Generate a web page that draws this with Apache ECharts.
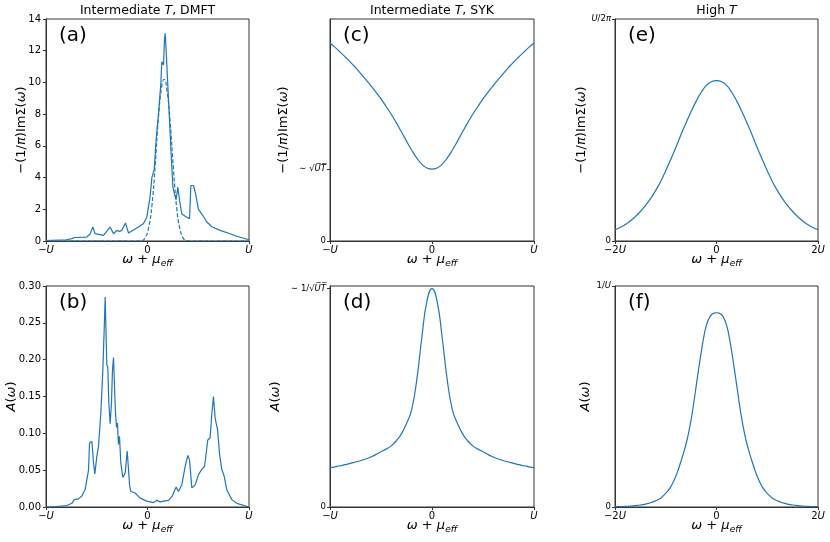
<!DOCTYPE html>
<html lang="en">
<head>
<meta charset="UTF-8">
<title>Self-energy and spectral function</title>
<script src="https://cdn.jsdelivr.net/npm/echarts@6/dist/echarts.min.js"></script>
<style>
    html, body { margin: 0; padding: 0; background: #fff; }
    #chart { width: 830px; height: 542px; }
</style>
</head>
<body>
<div id="chart"></div>
<script>
// all x values in units of U

// (a) DMFT -(1/pi) Im Sigma, solid and dashed
const dmftSigma = [
    [-1.0, 0.03], [-0.80, 0.08], [-0.745, 0.15], [-0.72, 0.22], [-0.598, 0.25], [-0.565, 0.45],
    [-0.539, 0.88], [-0.516, 0.46], [-0.434, 0.36], [-0.368, 0.88], [-0.335, 0.46], [-0.302, 0.67],
    [-0.276, 0.6], [-0.253, 0.67], [-0.217, 1.14], [-0.187, 0.5], [-0.138, 0.7], [-0.089, 0.88],
    [-0.039, 1.1], [-0.007, 1.5], [0.026, 2.8], [0.043, 4.0], [0.066, 4.5], [0.085, 6.4],
    [0.108, 8.0], [0.131, 9.9], [0.141, 11.3], [0.151, 11.4], [0.158, 11.1], [0.167, 12.7],
    [0.174, 13.1], [0.184, 12.0], [0.207, 8.9], [0.230, 5.9], [0.250, 3.4], [0.273, 2.8],
    [0.282, 2.6], [0.299, 3.4], [0.315, 2.6], [0.338, 1.7], [0.388, 1.5], [0.414, 1.4],
    [0.427, 3.5], [0.453, 3.5], [0.470, 3.1], [0.502, 2.0], [0.535, 1.7], [0.585, 1.2],
    [0.634, 0.9], [0.716, 0.67], [0.814, 0.46], [0.880, 0.3], [1.0, 0.08]
];
const dmftSigmaFit = [
    [-1.0, 0], [-0.10, 0], [-0.056, 0.02], [-0.023, 0.2], [0.010, 0.8], [0.043, 2.2],
    [0.076, 4.8], [0.108, 7.8], [0.141, 9.8], [0.164, 10.2], [0.190, 9.6], [0.223, 7.5],
    [0.256, 4.5], [0.289, 2.0], [0.322, 0.7], [0.355, 0.15], [0.388, 0.02], [0.43, 0], [1.0, 0]
];

// (b) DMFT A(omega)
const dmftSpectral = [
    [-1.0, 0.0], [-0.90, 0.0005], [-0.795, 0.002], [-0.745, 0.005], [-0.722, 0.01], [-0.680, 0.011],
    [-0.647, 0.015], [-0.614, 0.024], [-0.598, 0.026], [-0.581, 0.05], [-0.571, 0.087], [-0.548, 0.089],
    [-0.532, 0.06], [-0.519, 0.045], [-0.499, 0.069], [-0.483, 0.082], [-0.460, 0.127], [-0.440, 0.186],
    [-0.427, 0.24], [-0.417, 0.285], [-0.407, 0.227], [-0.401, 0.193], [-0.391, 0.19], [-0.381, 0.141],
    [-0.368, 0.113], [-0.355, 0.141], [-0.345, 0.186], [-0.335, 0.203], [-0.325, 0.164], [-0.315, 0.127],
    [-0.305, 0.108], [-0.296, 0.114], [-0.286, 0.085], [-0.276, 0.096], [-0.263, 0.06], [-0.243, 0.04],
    [-0.220, 0.046], [-0.200, 0.076], [-0.187, 0.051], [-0.177, 0.03], [-0.164, 0.021], [-0.122, 0.019],
    [-0.072, 0.012], [-0.007, 0.008], [0.059, 0.006], [0.092, 0.009], [0.125, 0.007], [0.158, 0.008],
    [0.207, 0.009], [0.240, 0.014], [0.282, 0.027], [0.305, 0.021], [0.338, 0.03], [0.371, 0.055],
    [0.397, 0.07], [0.414, 0.064], [0.437, 0.026], [0.470, 0.03], [0.502, 0.044], [0.535, 0.051],
    [0.562, 0.055], [0.594, 0.091], [0.617, 0.094], [0.634, 0.127], [0.650, 0.15], [0.667, 0.12],
    [0.690, 0.105], [0.709, 0.073], [0.732, 0.051], [0.755, 0.042], [0.782, 0.023], [0.831, 0.01],
    [0.880, 0.005], [1.0, 0.0]
];

// (c) SYK -(1/pi) Im Sigma, y in units where the top of the axis is 1
const sykSigma = [
    [-1.0, 0.892], [-0.95, 0.872], [-0.9, 0.851], [-0.85, 0.829], [-0.8, 0.806], [-0.75, 0.781],
    [-0.7, 0.755], [-0.65, 0.728], [-0.6, 0.700], [-0.55, 0.671], [-0.5, 0.640], [-0.45, 0.606],
    [-0.4, 0.571], [-0.35, 0.533], [-0.3, 0.492], [-0.25, 0.450], [-0.2, 0.410], [-0.15, 0.374],
    [-0.1, 0.346], [-0.05, 0.329], [0.0, 0.324], [0.05, 0.329], [0.1, 0.346], [0.15, 0.374],
    [0.2, 0.410], [0.25, 0.450], [0.3, 0.492], [0.35, 0.533], [0.4, 0.571], [0.45, 0.606],
    [0.5, 0.640], [0.55, 0.671], [0.6, 0.700], [0.65, 0.728], [0.7, 0.755], [0.75, 0.781],
    [0.8, 0.806], [0.85, 0.829], [0.9, 0.851], [0.95, 0.872], [1.0, 0.892]
];
const sykSigmaTicks = [0, 0.324];

// (d) SYK A(omega), peak ~ 1/sqrt(UT) taken as 1
const sykSpectral = [
    [-1.0, 0.180], [-0.95, 0.184], [-0.9, 0.189], [-0.85, 0.194], [-0.8, 0.200], [-0.75, 0.206],
    [-0.7, 0.212], [-0.65, 0.220], [-0.6, 0.229], [-0.55, 0.240], [-0.5, 0.253], [-0.45, 0.265],
    [-0.4, 0.280], [-0.35, 0.303], [-0.3, 0.335], [-0.25, 0.382], [-0.2, 0.445], [-0.15, 0.580],
    [-0.1, 0.775], [-0.05, 0.942], [0.0, 1.0], [0.05, 0.942], [0.1, 0.775], [0.15, 0.580],
    [0.2, 0.445], [0.25, 0.382], [0.3, 0.335], [0.35, 0.303], [0.4, 0.280], [0.45, 0.265],
    [0.5, 0.253], [0.55, 0.240], [0.6, 0.229], [0.65, 0.220], [0.7, 0.212], [0.75, 0.206],
    [0.8, 0.200], [0.85, 0.194], [0.9, 0.189], [0.95, 0.184], [1.0, 0.180]
];
const sykSpectralTicks = [0, 1];

// (e) high T -(1/pi) Im Sigma, y in units of U/2pi
const hotSigma = [
    [-2.0, 0.051], [-1.9, 0.061], [-1.8, 0.074], [-1.7, 0.090], [-1.6, 0.110], [-1.5, 0.133],
    [-1.4, 0.160], [-1.3, 0.191], [-1.2, 0.227], [-1.1, 0.268], [-1.0, 0.317], [-0.9, 0.368],
    [-0.8, 0.422], [-0.7, 0.479], [-0.6, 0.532], [-0.5, 0.583], [-0.4, 0.630], [-0.3, 0.670],
    [-0.2, 0.701], [-0.1, 0.717], [0.0, 0.722], [0.1, 0.717], [0.2, 0.701], [0.3, 0.670],
    [0.4, 0.630], [0.5, 0.583], [0.6, 0.532], [0.7, 0.479], [0.8, 0.422], [0.9, 0.368],
    [1.0, 0.317], [1.1, 0.268], [1.2, 0.227], [1.3, 0.191], [1.4, 0.160], [1.5, 0.133],
    [1.6, 0.110], [1.7, 0.090], [1.8, 0.074], [1.9, 0.061], [2.0, 0.051]
];
const hotSigmaTicks = [0, 1];

// (f) high T A(omega), y in units of 1/U
const hotSpectral = [
    [-2.0, 0.0015], [-1.9, 0.002], [-1.8, 0.003], [-1.7, 0.0045], [-1.6, 0.0065], [-1.5, 0.009],
    [-1.4, 0.013], [-1.3, 0.019], [-1.2, 0.028], [-1.1, 0.040], [-1.0, 0.062], [-0.95, 0.075],
    [-0.9, 0.092], [-0.85, 0.114], [-0.8, 0.140], [-0.75, 0.172], [-0.7, 0.207], [-0.65, 0.244],
    [-0.6, 0.285], [-0.55, 0.335], [-0.5, 0.395], [-0.45, 0.468], [-0.4, 0.548], [-0.35, 0.627],
    [-0.3, 0.702], [-0.25, 0.770], [-0.2, 0.822], [-0.15, 0.852], [-0.1, 0.870], [-0.05, 0.877],
    [0.0, 0.879], [0.05, 0.877], [0.1, 0.870], [0.15, 0.852], [0.2, 0.822], [0.25, 0.770],
    [0.3, 0.702], [0.35, 0.627], [0.4, 0.548], [0.45, 0.468], [0.5, 0.395], [0.55, 0.335],
    [0.6, 0.285], [0.65, 0.244], [0.7, 0.207], [0.75, 0.172], [0.8, 0.140], [0.85, 0.114],
    [0.9, 0.092], [0.95, 0.075], [1.0, 0.062], [1.1, 0.040], [1.2, 0.028], [1.3, 0.019],
    [1.4, 0.013], [1.5, 0.009], [1.6, 0.0065], [1.7, 0.0045], [1.8, 0.003], [1.9, 0.002], [2.0, 0.0015]
];
const hotSpectralTicks = [0, 1];

const titles = ['Intermediate {i|T}, DMFT', 'Intermediate {i|T}, SYK', 'High {i|T}'];
const panelTags = ['(a)', '(b)', '(c)', '(d)', '(e)', '(f)'];

const FONT = 'DejaVu Sans';
const BLUE = '#1f77b4';
const INK = '#333';

const chart = echarts.init(document.getElementById('chart'));

const rich = {
    i: { fontStyle: 'italic', fontFamily: FONT },
    sub: { fontStyle: 'italic', fontFamily: FONT, fontSize: 9, lineHeight: 9, verticalAlign: 'bottom' }
};

const sigmaName = '−(1/{i|π})ImΣ({i|ω})';
const spectralName = '{i|A}({i|ω})';
const omegaName = '{i|ω} + {i|μ}{sub|eff}';

// plot boxes, in px
const boxes = [
    { left: 46, top: 19, width: 203, height: 222 },
    { left: 46, top: 286, width: 203, height: 221 },
    { left: 330, top: 19, width: 204, height: 222 },
    { left: 330, top: 286, width: 204, height: 221 },
    { left: 615, top: 19, width: 203, height: 222 },
    { left: 615, top: 286, width: 203, height: 221 }
];

function uLabel(v, wide) {
    if (v === 0) return '0';
    let s = v < 0 ? '−' : '';
    return s + (wide ? '2' : '') + '{i|U}';
}

function xAxisFor(i, wide) {
    return {
        type: 'value', gridIndex: i,
        min: wide ? -2 : -1, max: wide ? 2 : 1, interval: wide ? 2 : 1,
        name: omegaName, nameLocation: 'middle', nameGap: 10, nameMoveOverlap: false,
        nameTextStyle: { fontFamily: FONT, fontSize: 13, color: '#000', lineHeight: 17, rich: rich },
        axisLine: { show: true, onZero: false, lineStyle: { color: INK, width: 1 } },
        axisTick: { show: true, length: 3, lineStyle: { color: INK } },
        axisLabel: {
            fontFamily: FONT, fontSize: 10, color: '#000', margin: 4,
            showMinLabel: true, showMaxLabel: true, rich: { i: { fontStyle: 'italic', fontFamily: FONT, fontSize: 10 } },
            formatter: v => uLabel(v / (wide ? 2 : 1), wide)
        },
        splitLine: { show: false }
    };
}

const yName = (name, gap) => ({
    name: name, nameLocation: 'middle', nameGap: gap, nameRotate: 90, nameMoveOverlap: false,
    nameTextStyle: { fontFamily: FONT, fontSize: 13, color: '#000', rich: rich }
});

const yBase = {
    type: 'value', min: 0,
    axisLine: { show: true, onZero: false, lineStyle: { color: INK, width: 1 } },
    axisTick: { show: true, length: 3, lineStyle: { color: INK } },
    splitLine: { show: false }
};

function customY(i, max, ticks, labels, gap, name) {
    return Object.assign({}, yBase, yName(name, gap), {
        gridIndex: i, max: max,
        axisTick: { show: true, length: 3, lineStyle: { color: INK }, customValues: ticks },
        axisLabel: {
            fontFamily: FONT, fontSize: 8.5, color: '#000', margin: 4,
            customValues: ticks,
            rich: { i: { fontStyle: 'italic', fontFamily: FONT, fontSize: 8.5 } },
            formatter: v => labels[ticks.indexOf(v)] || ''
        }
    });
}

const yAxes = [
    Object.assign({}, yBase, yName(sigmaName, 18), {
        gridIndex: 0, max: 14, interval: 2,
        axisLabel: { fontFamily: FONT, fontSize: 10, color: '#000', margin: 5 }
    }),
    Object.assign({}, yBase, yName(spectralName, 28), {
        gridIndex: 1, max: 0.30, interval: 0.05,
        axisLabel: { fontFamily: FONT, fontSize: 10, color: '#000', margin: 5, formatter: v => v.toFixed(2) }
    }),
    customY(2, 1, sykSigmaTicks, ['0', '∼ √{i|U̅T̅}'], 40, sigmaName),
    customY(3, 1.012, sykSpectralTicks, ['0', '∼ 1/√{i|U̅T̅}'], 48, spectralName),
    customY(4, 1, hotSigmaTicks, ['0', '{i|U}/2{i|π}'], 27, sigmaName),
    customY(5, 1, hotSpectralTicks, ['0', '1/{i|U}'], 23, spectralName)
];

const xAxes = [0, 1, 2, 3, 4, 5].map(i => xAxisFor(i, i >= 4));

function line(i, data, dashed) {
    const smoothOne = dashed || i >= 2;
    return {
        type: 'line', xAxisIndex: i, yAxisIndex: i, data: data,
        showSymbol: false, symbol: 'none',
        smooth: smoothOne ? 0.5 : false,
        lineStyle: { color: BLUE, width: 1.2, type: dashed ? [4, 2] : 'solid' },
        animation: false, z: dashed ? 3 : 4
    };
}

const graphics = [];
titles.forEach((t, k) => {
    const b = boxes[k * 2];
    graphics.push({
        type: 'text', x: b.left + b.width / 2, y: 11,
        style: {
            text: t, fontFamily: FONT, fontSize: 12.5, fill: '#000', align: 'center', verticalAlign: 'middle',
            rich: { i: { fontStyle: 'italic', fontFamily: FONT, fontSize: 12.5 } }
        }
    });
});
panelTags.forEach((t, k) => {
    const b = boxes[k];
    graphics.push({
        type: 'text', x: b.left + 13, y: b.top + 17,
        style: { text: t, fontFamily: FONT, fontSize: 20, fill: '#000', verticalAlign: 'middle' }
    });
});

chart.setOption({
    backgroundColor: '#fff',
    animation: false,
    grid: boxes.map(b => Object.assign({ show: true, borderColor: INK, borderWidth: 1, containLabel: false }, b)),
    xAxis: xAxes,
    yAxis: yAxes,
    series: [
        line(0, dmftSigma, false),
        line(0, dmftSigmaFit, true),
        line(1, dmftSpectral, false),
        line(2, sykSigma, false),
        line(3, sykSpectral, false),
        line(4, hotSigma, false),
        line(5, hotSpectral, false)
    ],
    graphic: graphics
});
</script>
</body>
</html>
